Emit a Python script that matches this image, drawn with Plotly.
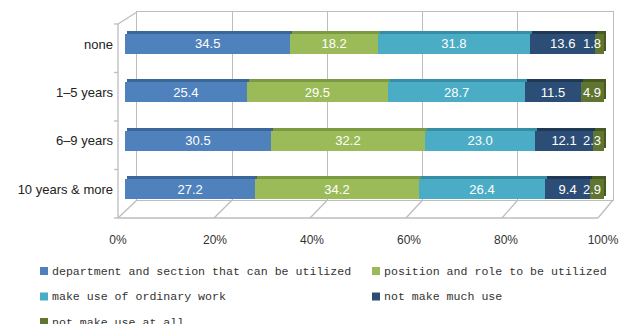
import plotly.graph_objects as go

W, H = 624, 324

# ---- data -------------------------------------------------------------
categories = ["none", "1–5 years", "6–9 years", "10 years & more"]
series_names = [
    "department and section that can be utilized",
    "position and role to be utilized",
    "make use of ordinary work",
    "not make much use",
    "not make use at all",
]
dept_section = [34.5, 25.4, 30.5, 27.2]
position_role = [18.2, 29.5, 32.2, 34.2]
ordinary_work = [31.8, 28.7, 23.0, 26.4]
not_much_use = [13.6, 11.5, 12.1, 9.4]
no_use_at_all = [1.8, 4.9, 2.3, 2.9]
x_ticks = [0, 20, 40, 60, 80, 100]
x_tick_labels = ["0%", "20%", "40%", "60%", "80%", "100%"]

series_values = [dept_section, position_role, ordinary_work, not_much_use, no_use_at_all]

# ---- styling ----------------------------------------------------------
face_colors = ["#4F81BD", "#9BBB59", "#4BACC6", "#2C4D75", "#5F7530"]
top_colors = ["#3B6698", "#7C9A42", "#368DA6", "#1F3856", "#465A22"]
# the thin last segment keeps its label inside the chart's right end
text_anchors = ["middle", "middle", "middle", "middle", "end"]
frame_color = "#BDBDBD"
label_font = "Liberation Sans, Arial, sans-serif"
mono_font = "Liberation Mono, DejaVu Sans Mono, monospace"


def px(x):
    return x / W


def py(y):
    return 1 - y / H


# chart geometry in pixels
wall_l, wall_r, wall_t, wall_b = 137, 613, 12, 200   # back wall
front_l, front_r, front_y = 118, 603, 218            # front edge of the floor
front_end = 598                                       # front-right floor corner
bar_l, bar_r = 125, 604                               # bar depth plane
bar_t, bar_b = 19.8, 213.2                            # category band
depth_dx, depth_dy = 2, 3                             # bar top face offset

fig = go.Figure()

# invisible traces so every subplot is rendered
fig.add_trace(go.Scatter(x=[None], y=[None], xaxis="x", yaxis="y",
                         showlegend=False, hoverinfo="skip"))
fig.add_trace(go.Scatter(x=[None], y=[None], xaxis="x4", yaxis="y",
                         showlegend=False, hoverinfo="skip"))

# darker copies set slightly behind and above: the bars' top/end faces
for name, vals, col in zip(series_names, series_values, top_colors):
    fig.add_trace(go.Bar(
        y=categories, x=vals, orientation="h", name=name,
        marker=dict(color=col, line=dict(width=0)),
        xaxis="x2", yaxis="y2", showlegend=False, hoverinfo="skip",
    ))

# front faces with value labels
for name, vals, col, anchor in zip(series_names, series_values, face_colors, text_anchors):
    fig.add_trace(go.Bar(
        y=categories, x=vals, orientation="h", name=name,
        marker=dict(color=col, line=dict(width=0)),
        text=[f"{v:.1f}" for v in vals],
        textposition="inside", insidetextanchor=anchor, textangle=0,
        textfont=dict(color="white", size=13, family=label_font),
        cliponaxis=False,
        xaxis="x3", yaxis="y3", showlegend=False,
        hovertemplate="%{y}<br>" + name + ": %{text}<extra></extra>",
    ))

shapes = []
line = dict(color=frame_color, width=1.3)

# left wall and floor outline
shapes.append(dict(type="line", xref="paper", yref="paper",
                   x0=px(wall_l), y0=py(wall_t), x1=px(front_l), y1=py(24), line=line))
shapes.append(dict(type="line", xref="paper", yref="paper",
                   x0=px(front_l), y0=py(24), x1=px(front_l), y1=py(front_y), line=line))
shapes.append(dict(type="line", xref="paper", yref="paper",
                   x0=px(front_l), y0=py(front_y), x1=px(front_end), y1=py(front_y), line=line))
# floor diagonals from each back gridline to the front edge
for k in range(len(x_ticks)):
    t = k / (len(x_ticks) - 1)
    xb = wall_l + t * (wall_r - wall_l)
    xf = front_l + t * (front_end - front_l)
    shapes.append(dict(type="line", xref="paper", yref="paper",
                       x0=px(xb), y0=py(wall_b), x1=px(xf), y1=py(front_y), line=line))
# short category ticks on the left wall edge
for i in range(len(categories) + 1):
    yy = 24 + i * (front_y - 24) / len(categories)
    shapes.append(dict(type="line", xref="paper", yref="paper",
                       x0=px(front_l - 4), y0=py(yy), x1=px(front_l), y1=py(yy), line=line))

# legend, laid out in two columns
annotations = []
legend_rows = [271, 296.5, 322]
legend_cols = [40, 372]
for i, (name, col) in enumerate(zip(series_names, face_colors)):
    cx = legend_cols[i % 2]
    cy = legend_rows[i // 2]
    shapes.append(dict(type="rect", xref="paper", yref="paper",
                       x0=px(cx), x1=px(cx + 8), y0=py(cy + 4), y1=py(cy - 4),
                       fillcolor=col, line=dict(width=0)))
    annotations.append(dict(text=name, xref="paper", yref="paper",
                            x=px(cx + 10), y=py(cy), xanchor="left", yanchor="middle",
                            showarrow=False,
                            font=dict(family=mono_font, size=11.6, color="#333333")))

fig.update_layout(
    width=W, height=H,
    autosize=False,
    margin=dict(l=0, r=0, t=0, b=0, pad=0, autoexpand=False),
    paper_bgcolor="white",
    plot_bgcolor="rgba(0,0,0,0)",
    barmode="stack",
    barnorm="percent",
    bargap=0.585,
    showlegend=False,
    uniformtext=dict(minsize=13, mode="show"),
    shapes=shapes,
    annotations=annotations,
    # back wall with vertical gridlines
    xaxis=dict(domain=[px(wall_l), px(wall_r)], range=[0, 100], anchor="y",
               tickvals=x_ticks, showticklabels=False, ticks="",
               showgrid=True, gridcolor=frame_color, gridwidth=1.3,
               showline=True, mirror=True, linecolor=frame_color, linewidth=1.3,
               zeroline=False, fixedrange=True, automargin=False),
    yaxis=dict(domain=[py(wall_b), py(wall_t)], range=[0, 1], anchor="x",
               showticklabels=False, ticks="", showgrid=False,
               showline=True, mirror=True, linecolor=frame_color, linewidth=1.3,
               zeroline=False, fixedrange=True, automargin=False),
    # top/end faces of the bars
    xaxis2=dict(domain=[px(bar_l + depth_dx), px(bar_r + depth_dx)], range=[0, 100],
                anchor="y2", visible=False, fixedrange=True, automargin=False),
    yaxis2=dict(domain=[py(bar_b - depth_dy), py(bar_t - depth_dy)], anchor="x2",
                type="category", categoryorder="array", categoryarray=categories,
                autorange="reversed", visible=False, fixedrange=True, automargin=False),
    # front faces of the bars
    xaxis3=dict(domain=[px(bar_l), px(bar_r)], range=[0, 100], anchor="y3",
                visible=False, fixedrange=True, automargin=False),
    yaxis3=dict(domain=[py(bar_b), py(bar_t)], anchor="x3",
                type="category", categoryorder="array", categoryarray=categories,
                autorange="reversed", showgrid=False, showline=False, ticks="",
                ticklabelstandoff=11,
                tickfont=dict(family=label_font, size=13, color="#222222"),
                zeroline=False, fixedrange=True, automargin=False),
    # percentage scale along the front edge of the floor
    xaxis4=dict(domain=[px(front_l), px(front_r)], range=[0, 100],
                anchor="free", position=py(front_y),
                tickvals=x_ticks, ticktext=x_tick_labels, ticks="",
                ticklabelstandoff=13,
                tickfont=dict(family=label_font, size=12, color="#333333"),
                showgrid=False, showline=False,
                zeroline=False, fixedrange=True, automargin=False),
)

fig.write_html("out.html", config={"responsive": False, "displayModeBar": False})
